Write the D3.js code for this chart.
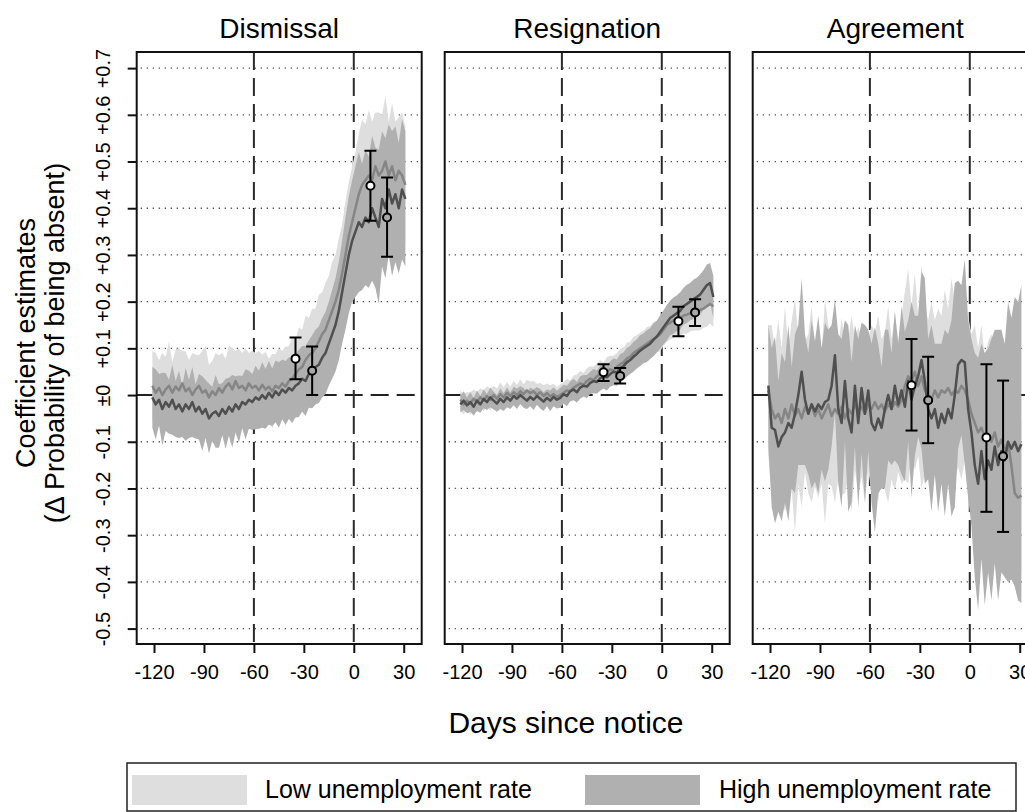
<!DOCTYPE html>
<html lang="en">
  <meta charset="utf-8">
  <title>Absence around the notice date</title>

  <style>
  body {
    margin: 0px;
    background: white;
  }
  #chartDiv svg {
    display: block;
    font-family: "Liberation Sans", Arial, Helvetica, sans-serif;
  }
  </style>

  <body>
  <div id="chartDiv"></div>

  <script src="https://cdnjs.cloudflare.com/ajax/libs/d3/7.8.5/d3.min.js"></script>
  <script>
    // ---- data ----
    // days since notice, every second day
    var days = [-121,-119,-117,-115,-113,-111,-109,-107,-105,-103,-101,-99,-97,-95,-93,-91,-89,-87,-85,-83,
      -81,-79,-77,-75,-73,-71,-69,-67,-65,-63,-61,-59,-57,-55,-53,-51,-49,-47,-45,-43,-41,-39,-37,-35,-33,
      -31,-29,-27,-25,-23,-21,-19,-17,-15,-13,-11,-9,-7,-5,-3,-1,1,3,5,7,9,11,13,15,17,19,21,23,25,27,29,31];

    var panelTitles = ["Dismissal", "Resignation", "Agreement"];
    var groupNames = ["Low unemployment rate", "High unemployment rate"];

    // Dismissal: point estimate and half width of the band
    var dismLowMean = [0.02,0.005,0.015,0.0,0.012,0.02,0.005,0.018,0.01,0.025,0.008,0.015,0.0,0.012,0.02,0.005,0.01,-0.005,0.008,0.0,0.015,0.005,0.018,0.025,0.012,0.03,0.015,0.02,0.01,0.025,0.015,
      0.02,0.01,0.022,0.012,0.018,0.008,0.02,0.015,0.025,0.018,0.03,0.035,0.045,0.055,0.06,0.075,0.085,0.09,0.1,0.115,0.13,0.14,0.16,0.18,0.2,0.225,0.26,0.3,0.34,0.37,
      0.4,0.43,0.45,0.46,0.47,0.46,0.49,0.47,0.48,0.5,0.47,0.49,0.46,0.48,0.47,0.45];
    var dismLowHw = [0.075,0.085,0.06,0.09,0.07,0.095,0.065,0.08,0.09,0.07,0.085,0.06,0.09,0.075,0.065,0.09,0.095,0.07,0.065,0.09,0.07,0.085,0.06,0.08,0.09,0.065,0.085,0.07,0.09,0.065,0.08,
      0.07,0.085,0.065,0.08,0.06,0.08,0.068,0.085,0.07,0.085,0.075,0.09,0.072,0.09,0.08,0.095,0.08,0.095,0.085,0.1,0.09,0.1,0.095,0.105,0.1,0.11,0.105,0.115,0.115,0.12,
      0.12,0.13,0.14,0.12,0.14,0.125,0.115,0.135,0.12,0.14,0.115,0.135,0.125,0.115,0.135,0.125];
    var dismHighMean = [-0.005,-0.02,-0.01,-0.03,-0.015,-0.025,-0.01,-0.03,-0.02,-0.035,-0.02,-0.03,-0.015,-0.035,-0.025,-0.04,-0.03,-0.05,-0.04,-0.035,-0.045,-0.03,-0.04,-0.025,-0.035,-0.02,-0.03,-0.015,-0.02,-0.01,-0.015,
      -0.005,-0.01,0.0,-0.008,0.005,-0.005,0.008,0.0,0.012,0.005,0.015,0.01,0.02,0.025,0.035,0.03,0.045,0.05,0.06,0.065,0.08,0.09,0.11,0.13,0.15,0.18,0.22,0.26,0.3,0.33,
      0.35,0.37,0.36,0.38,0.37,0.4,0.38,0.36,0.42,0.4,0.44,0.41,0.43,0.4,0.44,0.42];
    var dismHighHw = [0.065,0.075,0.055,0.078,0.062,0.058,0.075,0.06,0.072,0.055,0.078,0.062,0.075,0.058,0.07,0.08,0.062,0.075,0.058,0.078,0.068,0.056,0.075,0.062,0.078,0.06,0.072,0.056,0.075,0.062,0.06,
      0.068,0.062,0.07,0.064,0.068,0.062,0.066,0.07,0.064,0.068,0.066,0.07,0.068,0.072,0.07,0.075,0.072,0.078,0.08,0.082,0.085,0.088,0.09,0.095,0.1,0.105,0.11,0.12,0.125,0.13,
      0.14,0.15,0.135,0.145,0.14,0.155,0.15,0.165,0.145,0.15,0.14,0.155,0.145,0.14,0.15,0.145];

    // Resignation
    var resLowMean = [-0.01,-0.02,-0.012,-0.018,-0.008,-0.015,-0.005,-0.012,-0.002,-0.01,0.0,-0.008,0.002,-0.005,0.005,-0.002,0.006,0.0,0.008,0.002,0.01,0.004,0.008,0.0,0.006,-0.002,0.004,-0.003,0.002,-0.004,0.0,
      0.005,0.01,0.008,0.016,0.02,0.025,0.022,0.03,0.035,0.032,0.04,0.045,0.042,0.05,0.055,0.052,0.06,0.066,0.07,0.078,0.082,0.09,0.095,0.1,0.105,0.11,0.115,0.12,0.125,0.13,
      0.14,0.15,0.155,0.16,0.162,0.165,0.17,0.172,0.175,0.18,0.178,0.182,0.185,0.19,0.195,0.19];
    var resLowHw = [0.02,0.022,0.018,0.024,0.02,0.022,0.019,0.023,0.021,0.024,0.02,0.022,0.025,0.021,0.023,0.02,0.024,0.022,0.026,0.021,0.023,0.025,0.022,0.024,0.02,0.023,0.021,0.024,0.022,0.02,0.023,
      0.022,0.025,0.023,0.026,0.024,0.027,0.025,0.028,0.026,0.029,0.027,0.03,0.028,0.031,0.029,0.032,0.03,0.033,0.031,0.034,0.032,0.035,0.033,0.034,0.032,0.035,0.033,0.036,0.034,0.036,
      0.035,0.037,0.036,0.038,0.037,0.04,0.038,0.041,0.039,0.042,0.04,0.043,0.041,0.044,0.042,0.045];
    var resHighMean = [-0.02,-0.012,-0.022,-0.015,-0.025,-0.012,-0.02,-0.008,-0.015,-0.005,-0.012,-0.018,-0.008,-0.015,-0.005,-0.012,-0.002,-0.008,0.0,-0.006,-0.012,-0.004,-0.01,-0.002,-0.008,-0.014,-0.006,-0.012,-0.004,-0.01,-0.006,
      0.002,-0.002,0.008,0.012,0.006,0.016,0.02,0.018,0.026,0.03,0.028,0.036,0.04,0.038,0.045,0.05,0.048,0.058,0.062,0.07,0.075,0.082,0.088,0.095,0.1,0.105,0.11,0.118,0.125,0.135,
      0.145,0.155,0.165,0.17,0.175,0.18,0.19,0.195,0.2,0.205,0.21,0.215,0.225,0.235,0.24,0.21];
    var resHighHw = [0.018,0.02,0.017,0.021,0.019,0.022,0.018,0.02,0.017,0.021,0.019,0.018,0.022,0.019,0.021,0.018,0.02,0.022,0.019,0.021,0.018,0.02,0.022,0.019,0.021,0.02,0.018,0.022,0.02,0.019,0.021,
      0.02,0.022,0.021,0.023,0.022,0.024,0.023,0.025,0.024,0.026,0.025,0.027,0.026,0.028,0.027,0.029,0.028,0.03,0.029,0.031,0.03,0.032,0.031,0.033,0.032,0.034,0.033,0.035,0.034,0.036,
      0.036,0.038,0.037,0.039,0.038,0.04,0.039,0.041,0.04,0.042,0.041,0.043,0.042,0.044,0.043,0.045];

    // Agreement
    var agrLowMean = [0.01,-0.03,-0.05,-0.04,-0.06,-0.03,-0.05,-0.02,-0.045,-0.03,-0.05,-0.025,-0.04,-0.02,-0.045,-0.03,-0.05,-0.035,-0.02,-0.045,-0.03,-0.04,-0.025,-0.05,-0.03,-0.04,-0.02,-0.035,-0.025,-0.04,-0.02,
      -0.03,-0.015,-0.03,-0.02,-0.035,-0.02,-0.03,-0.015,-0.025,-0.01,0.02,0.04,0.03,0.05,0.02,0.04,0.01,0.0,-0.01,0.01,-0.005,0.01,0.005,0.015,0.0,0.01,0.005,0.02,0.01,-0.01,
      -0.04,-0.06,-0.08,-0.07,-0.09,-0.085,-0.1,-0.08,-0.11,-0.095,-0.12,-0.1,-0.15,-0.21,-0.22,-0.215];
    var agrLowHw = [0.14,0.18,0.15,0.2,0.16,0.22,0.15,0.18,0.25,0.16,0.19,0.14,0.17,0.21,0.15,0.19,0.14,0.24,0.17,0.15,0.2,0.14,0.19,0.16,0.15,0.21,0.14,0.18,0.15,0.19,0.14,
      0.18,0.15,0.2,0.14,0.17,0.21,0.15,0.19,0.14,0.18,0.2,0.23,0.16,0.21,0.15,0.24,0.18,0.16,0.21,0.15,0.19,0.16,0.22,0.17,0.25,0.19,0.16,0.2,0.15,0.18,
      0.17,0.21,0.18,0.22,0.17,0.2,0.23,0.18,0.21,0.19,0.22,0.18,0.21,0.19,0.17,0.16];
    var agrHighMean = [0.02,-0.07,-0.075,-0.11,-0.09,-0.08,-0.06,-0.07,-0.04,0.0,0.05,-0.01,-0.04,-0.02,-0.035,-0.02,-0.03,-0.015,-0.01,0.02,0.085,-0.03,-0.06,0.03,-0.05,-0.08,0.02,-0.06,0.015,-0.04,0.01,
      -0.06,-0.075,-0.05,-0.07,-0.03,0.0,-0.03,0.02,-0.02,0.01,-0.025,0.03,-0.01,0.02,0.04,0.075,0.03,-0.03,-0.05,-0.03,-0.07,-0.04,-0.06,-0.03,-0.05,0.0,0.065,0.075,0.07,-0.03,
      -0.08,-0.15,-0.19,-0.12,-0.18,-0.14,-0.16,-0.11,-0.15,-0.12,-0.14,-0.1,-0.115,-0.1,-0.12,-0.105];
    var agrHighHw = [0.13,0.17,0.2,0.14,0.18,0.15,0.21,0.13,0.17,0.15,0.2,0.14,0.13,0.18,0.15,0.19,0.13,0.17,0.15,0.13,0.12,0.16,0.18,0.13,0.2,0.15,0.13,0.18,0.14,0.19,0.13,
      0.17,0.22,0.16,0.13,0.17,0.14,0.12,0.16,0.13,0.18,0.16,0.13,0.21,0.15,0.13,0.19,0.22,0.15,0.2,0.14,0.18,0.15,0.2,0.16,0.21,0.24,0.18,0.16,0.22,0.19,
      0.2,0.24,0.27,0.23,0.27,0.24,0.28,0.25,0.29,0.26,0.25,0.3,0.28,0.31,0.32,0.34];

    // window averages with their confidence intervals (low, high, low, high)
    var pointDays = [-35, -25, 10, 20];
    var pointGroup = [0, 1, 0, 1];
    var dismEst = [0.078, 0.052, 0.448, 0.380];
    var dismLo = [0.034, 0.0, 0.373, 0.296];
    var dismHi = [0.123, 0.104, 0.523, 0.466];
    var resEst = [0.049, 0.041, 0.158, 0.177];
    var resLo = [0.030, 0.025, 0.126, 0.148];
    var resHi = [0.066, 0.058, 0.189, 0.205];
    var agrEst = [0.021, -0.011, -0.091, -0.131];
    var agrLo = [-0.076, -0.103, -0.250, -0.293];
    var agrHi = [0.120, 0.082, 0.066, 0.031];

    var xTicks = [-120, -90, -60, -30, 0, 30];
    var yTicks = [-0.5, -0.4, -0.3, -0.2, -0.1, 0, 0.1, 0.2, 0.3, 0.4, 0.5, 0.6, 0.7];
    var yTickLabels = ["-0.5", "-0.4", "-0.3", "-0.2", "-0.1", "\u00b10", "+0.1", "+0.2", "+0.3", "+0.4", "+0.5", "+0.6", "+0.7"];
    var refDays = [-60, 0];

    // ---- layout ----
    var W = 1025, H = 812;
    var panelLeft = [136.7, 444.7, 752.7];
    var panelW = 285;
    var plotTop = 52, plotBottom = 644;

    var bandColor = ["#dedede", "#b0b0b0"];
    var lineColor = ["#858585", "#4f4f4f"];
    var dotFill = ["#ffffff", "#a8a8a8"];

    var svg = d3.select("#chartDiv").append("svg")
      .attr("width", W).attr("height", H);

    var y = d3.scaleLinear().domain([-0.533, 0.7345]).range([plotBottom, plotTop]);

    function MakeRows(means, hws)
    {
      return days.map(function(d, i) { return { day: d, mean: means[i], hw: hws[i] }; });
    }

    var panels = [
      { series: [MakeRows(dismLowMean, dismLowHw), MakeRows(dismHighMean, dismHighHw)], est: dismEst, lo: dismLo, hi: dismHi },
      { series: [MakeRows(resLowMean, resLowHw), MakeRows(resHighMean, resHighHw)], est: resEst, lo: resLo, hi: resHi },
      { series: [MakeRows(agrLowMean, agrLowHw), MakeRows(agrHighMean, agrHighHw)], est: agrEst, lo: agrLo, hi: agrHi }
    ];

    // Draws one facet: grid, reference lines, bands, lines, point estimates, frame.
    function DrawPanel(p, k)
    {
      var left = panelLeft[k];
      var x = d3.scaleLinear().domain([-130.4, 40.8]).range([left, left + panelW]);
      var g = svg.append("g");

      g.append("clipPath").attr("id", "clip" + k)
        .append("rect").attr("x", left).attr("y", plotTop)
        .attr("width", panelW).attr("height", plotBottom - plotTop);

      var inner = g.append("g").attr("clip-path", "url(#clip" + k + ")");

      // dotted horizontal grid
      inner.selectAll("line.grid").data(yTicks.filter(function(t) { return t !== 0; }))
        .enter().append("line").attr("class", "grid")
        .attr("x1", left + 4).attr("x2", left + panelW)
        .attr("y1", function(d) { return y(d); }).attr("y2", function(d) { return y(d); })
        .attr("stroke", "#555").attr("stroke-width", 1.3)
        .attr("stroke-dasharray", "1.3,4.7");

      // dashed zero line and notice window lines
      inner.append("line")
        .attr("x1", left).attr("x2", left + panelW)
        .attr("y1", y(0)).attr("y2", y(0))
        .attr("stroke", "#222").attr("stroke-width", 2)
        .attr("stroke-dasharray", "18,8");

      inner.selectAll("line.ref").data(refDays)
        .enter().append("line").attr("class", "ref")
        .attr("x1", function(d) { return x(d); }).attr("x2", function(d) { return x(d); })
        .attr("y1", plotTop).attr("y2", plotBottom)
        .attr("stroke", "#2a2a2a").attr("stroke-width", 2)
        .attr("stroke-dasharray", "18,8");

      // confidence bands
      var area = d3.area()
        .x(function(d) { return x(d.day); })
        .y0(function(d) { return y(d.mean - d.hw); })
        .y1(function(d) { return y(d.mean + d.hw); });

      p.series.forEach(function(rows, s) {
        inner.append("path").datum(rows)
          .attr("d", area).attr("fill", bandColor[s]);
      });

      var line = d3.line()
        .x(function(d) { return x(d.day); })
        .y(function(d) { return y(d.mean); });

      p.series.forEach(function(rows, s) {
        inner.append("path").datum(rows)
          .attr("d", line).attr("fill", "none")
          .attr("stroke", lineColor[s]).attr("stroke-width", 2.5)
          .attr("stroke-linejoin", "round");
      });

      // window averages with whiskers
      var capW = 6;
      pointDays.forEach(function(d, i) {
        var cx = x(d);
        inner.append("line")
          .attr("x1", cx).attr("x2", cx)
          .attr("y1", y(p.lo[i])).attr("y2", y(p.hi[i]))
          .attr("stroke", "#000").attr("stroke-width", 2);
        [p.lo[i], p.hi[i]].forEach(function(v) {
          inner.append("line")
            .attr("x1", cx - capW).attr("x2", cx + capW)
            .attr("y1", y(v)).attr("y2", y(v))
            .attr("stroke", "#000").attr("stroke-width", 2);
        });
        inner.append("circle")
          .attr("cx", cx).attr("cy", y(p.est[i])).attr("r", 4)
          .attr("fill", dotFill[pointGroup[i]])
          .attr("stroke", "#000").attr("stroke-width", 2);
      });

      // frame
      g.append("rect")
        .attr("x", left).attr("y", plotTop)
        .attr("width", panelW).attr("height", plotBottom - plotTop)
        .attr("fill", "none").attr("stroke", "#111").attr("stroke-width", 2);

      // x axis
      var xAxis = d3.axisBottom(x).tickValues(xTicks).tickSize(9).tickPadding(12).tickSizeOuter(0)
        .tickFormat(function(d) { return String(d); });
      var gx = g.append("g").attr("transform", "translate(0," + plotBottom + ")").call(xAxis);
      gx.select(".domain").remove();
      gx.selectAll(".tick line").attr("stroke", "#111").attr("stroke-width", 2);
      gx.selectAll(".tick text")
        .attr("fill", "#000")
        .style("font-size", "20px")
        .style("font-family", "'Liberation Sans', Arial, sans-serif");

      // panel title
      g.append("text")
        .attr("x", left + panelW / 2).attr("y", 38)
        .attr("text-anchor", "middle").attr("font-size", 28)
        .text(panelTitles[k]);

      // y axis only on the first facet
      if (k === 0)
      {
        var yAxis = d3.axisLeft(y).tickValues(yTicks).tickSize(9).tickSizeOuter(0)
          .tickFormat(function(d, i) { return yTickLabels[i]; });
        var gy = g.append("g").attr("transform", "translate(" + left + ",0)").call(yAxis);
        gy.select(".domain").remove();
        gy.selectAll(".tick line").attr("stroke", "#111").attr("stroke-width", 2);
        gy.selectAll(".tick text")
          .attr("x", 0).attr("dy", null)
          .attr("text-anchor", "middle").attr("fill", "#000")
          .style("font-size", "20px")
          .style("font-family", "'Liberation Sans', Arial, sans-serif")
          .attr("transform", "translate(" + (110 - left) + ",0) rotate(-90)");
      }
    }

    panels.forEach(DrawPanel);

    // axis titles
    var yTitle = svg.append("text")
      .attr("transform", "translate(35,343) rotate(-90)")
      .attr("text-anchor", "middle").attr("font-size", 27);
    yTitle.append("tspan").attr("x", 0).attr("y", 0).text("Coefficient estimates");
    yTitle.append("tspan").attr("x", 0).attr("y", 29).text("(\u0394 Probability of being absent)");

    svg.append("text")
      .attr("x", 566).attr("y", 733)
      .attr("text-anchor", "middle").attr("font-size", 30)
      .text("Days since notice");

    // legend
    svg.append("rect")
      .attr("x", 127).attr("y", 763).attr("width", 889).attr("height", 48)
      .attr("fill", "none").attr("stroke", "#222").attr("stroke-width", 1.5);

    var legendSwatchX = [132, 585];
    var legendTextX = [265, 719];
    groupNames.forEach(function(name, s) {
      svg.append("rect")
        .attr("x", legendSwatchX[s]).attr("y", 775).attr("width", 115).attr("height", 30)
        .attr("fill", bandColor[s]);
      svg.append("text")
        .attr("x", legendTextX[s]).attr("y", 798)
        .attr("font-size", 25)
        .text(name);
    });
  </script>
  </body>
</html>
